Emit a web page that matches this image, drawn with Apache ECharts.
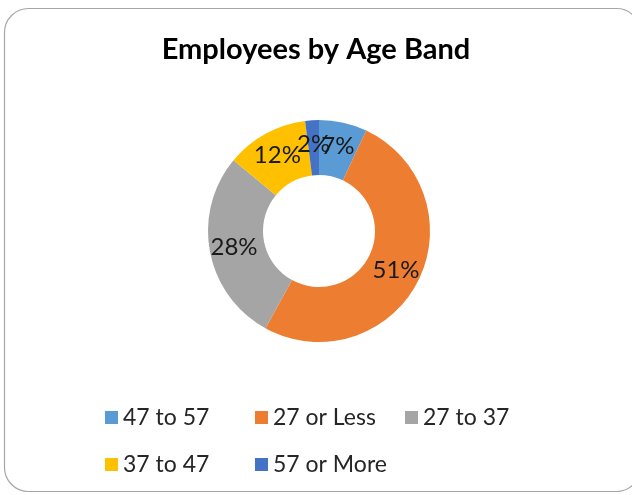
<!DOCTYPE html>
<html>
<head>
<meta charset="utf-8">
<script src="https://cdn.jsdelivr.net/npm/echarts@6/dist/echarts.min.js"></script>
<style>
  html, body { margin: 0; padding: 0; background: #fff; }
  #chart { width: 632px; height: 495px; }
</style>
</head>
<body>
<div id="chart"></div>
<script>
const bands = ['47 to 57', '27 or Less', '27 to 37', '37 to 47', '57 or More'];
const shares = [7, 51, 28, 12, 2];
const colors = ['#5B9BD5', '#ED7D31', '#A5A5A5', '#FFC000', '#4472C4'];

const chart = echarts.init(document.getElementById('chart'));

chart.setOption({
  animation: false,
  color: colors,
  graphic: [
    {
      type: 'rect',
      z: -10,
      shape: { x: 4.5, y: 8.5, width: 636, height: 483, r: 24 },
      style: { fill: '#fff', stroke: '#A6A6A6', lineWidth: 1.2 },
    },
  ],
  title: {
    text: 'Employees by Age Band',
    left: 'center',
    top: 30,
    textStyle: {
      color: '#000',
      fontSize: 29,
      fontWeight: 'bold',
      fontFamily: 'Lato, sans-serif',
    },
  },
  legend: {
    data: bands,
    left: 100,
    top: 399,
    width: 450,
    itemWidth: 13,
    itemHeight: 13,
    itemGap: 20,
    icon: 'rect',
    textStyle: {
      color: '#262626',
      fontSize: 23,
      fontFamily: 'Lato, sans-serif',
      width: 112,
      lineHeight: 27,
    },
  },
  series: [
    {
      type: 'pie',
      center: [319, 231],
      radius: [56, 111],
      startAngle: 90,
      clockwise: true,
      avoidLabelOverlap: false,
      minShowLabelAngle: 0,
      label: {
        show: true,
        position: 'inside',
        formatter: '{c}%',
        color: '#1a1a1a',
        fontSize: 24,
        fontFamily: 'Lato, sans-serif',
      },
      labelLayout: { hideOverlap: false },
      labelLine: { show: false },
      emphasis: { disabled: true },
      data: bands.map((name, i) => ({ name, value: shares[i] })),
    },
  ],
});
</script>
</body>
</html>
